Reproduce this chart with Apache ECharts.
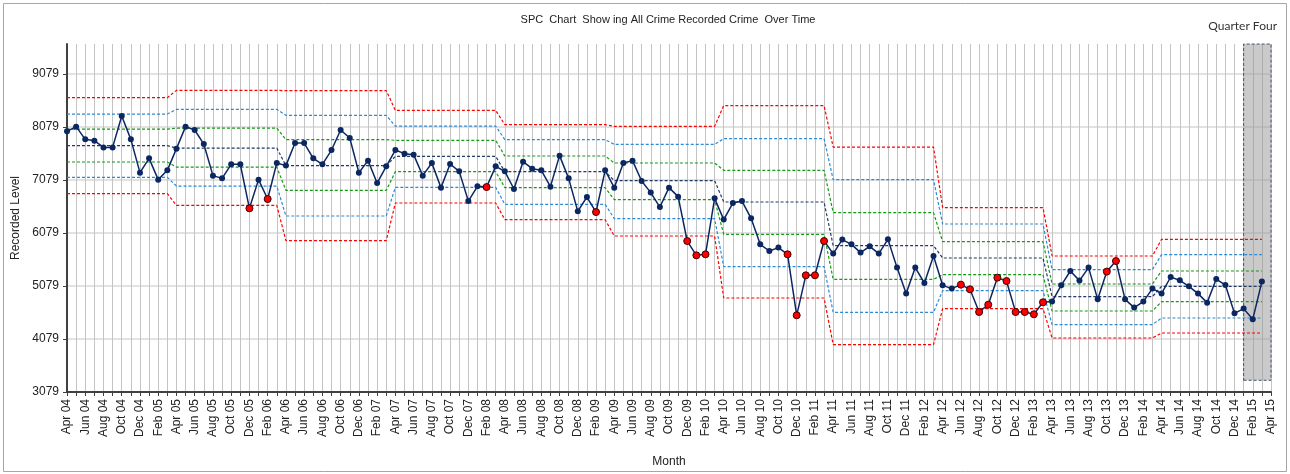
<!DOCTYPE html>
<html>
<head>
<meta charset="utf-8">
<script src="https://cdn.jsdelivr.net/npm/echarts@6/dist/echarts.min.js"></script>
<style>
  html, body { margin: 0; padding: 0; background: #fff; }
  #chart { width: 1290px; height: 474px; }
</style>
</head>
<body>
<div id="chart"></div>
<script>
// month labels Apr 04 .. Apr 15
var monthNames = ['Jan','Feb','Mar','Apr','May','Jun','Jul','Aug','Sep','Oct','Nov','Dec'];
var months = [];
for (var k = 0; k < 133; k++) {
  var m = (3 + k) % 12;
  var yr = 4 + Math.floor((3 + k) / 12);
  months.push(monthNames[m] + ' ' + (yr < 10 ? '0' + yr : '' + yr));
}

// recorded crime per month (Apr 04 .. Mar 15)
var recorded = [
  7993, 8082, 7842, 7818, 7691, 7691, 8282, 7842, 7214, 7484, 7083, 7258,
  7667, 8082, 8018, 7754, 7158, 7107, 7371, 7371, 6542, 7083, 6717, 7396,
  7347, 7773, 7773, 7484, 7371, 7641, 8018, 7867, 7214, 7441, 7019, 7333,
  7641, 7573, 7554, 7158, 7396, 6932, 7377, 7239, 6679, 6956, 6943, 7333,
  7239, 6906, 7422, 7290, 7258, 6951, 7535, 7107, 6485, 6755, 6472, 7258,
  6932, 7396, 7441, 7056, 6838, 6566, 6932, 6762, 5925, 5656, 5675, 6730,
  6329, 6642, 6679, 6353, 5863, 5737, 5801, 5675, 4525, 5279, 5279, 5925,
  5688, 5952, 5863, 5707, 5826, 5688, 5957, 5424, 4934, 5424, 5134, 5643,
  5090, 5028, 5103, 5015, 4587, 4726, 5235, 5171, 4587, 4587, 4544, 4770,
  4783, 5090, 5360, 5179, 5424, 4826, 5349, 5548, 4826, 4670, 4783, 5028,
  4934, 5247, 5184, 5071, 4934, 4764, 5209, 5096, 4562, 4651, 4449, 5160
];

// months flagged as special cause (red points)
var flagged = [20, 22, 46, 58, 68, 69, 70, 79, 80, 81, 82, 83,
  98, 99, 100, 101, 102, 103, 104, 105, 106, 107, 114, 115];

// control lines, one value per 12-month phase
var ucl    = [8628, 8766, 8760, 8389, 8119, 8087, 8478, 7697, 6555, 5643, 5957];
var plus2  = [8319, 8408, 8295, 8093, 7837, 7748, 7855, 7083, 6246, 5386, 5669];
var plus1  = [8036, 8055, 7837, 7824, 7528, 7396, 7258, 6461, 5914, 5115, 5360];
var centre = [7724, 7678, 7346, 7522, 7234, 7064, 6661, 5839, 5605, 4877, 5071];
var minus1 = [7415, 7320, 6881, 7234, 6932, 6706, 6052, 5203, 5292, 4606, 4783];
var minus2 = [7126, 6962, 6397, 6938, 6617, 6348, 5443, 4581, 4990, 4349, 4474];
var lcl    = [6819, 6598, 5933, 6642, 6329, 6020, 4851, 3972, 4651, 4097, 4191];

var yTicks = [3079, 4079, 5079, 6079, 7079, 8079, 9079];

function perMonth(levels) {
  var out = [];
  for (var i = 0; i < recorded.length; i++) out.push(levels[Math.floor(i / 12)]);
  return out;
}

function limitLine(levels, color, z) {
  return {
    type: 'line',
    data: perMonth(levels),
    symbol: 'none',
    silent: true,
    z: z,
    lineStyle: { color: color, width: 1.2, type: [3, 2] }
  };
}

var pointData = recorded.map(function (v, i) {
  if (flagged.indexOf(i) >= 0) {
    return { value: v, symbolSize: 7, itemStyle: { color: '#ff0000', borderColor: '#3a0000', borderWidth: 1 } };
  }
  return v;
});

var chart = echarts.init(document.getElementById('chart'));
chart.setOption({
  animation: false,
  textStyle: { fontFamily: 'Liberation Sans' },
  grid: { left: 67, right: 19, top: 44, bottom: 82, containLabel: false },
  graphic: [
    { type: 'rect', shape: { x: 3.5, y: 3.5, width: 1283, height: 468 },
      style: { fill: 'none', stroke: '#a6a6a6', lineWidth: 1 }, z: -10 },
    { type: 'text', x: 668, y: 14,
      style: { text: 'SPC  Chart  Show ing All Crime Recorded Crime  Over Time', fontSize: 11,
               fontFamily: 'Liberation Sans', fill: '#222', textAlign: 'center' } },
    { type: 'text', x: 1277, y: 20,
      style: { text: 'Quarter Four', fontSize: 12, fontFamily: 'Lato', fill: '#333', textAlign: 'right' } }
  ],
  xAxis: {
    type: 'category',
    data: months,
    boundaryGap: false,
    name: 'Month',
    nameLocation: 'middle',
    nameGap: 64,
    nameTextStyle: { fontSize: 12, color: '#222' },
    axisLine: { lineStyle: { color: '#404040', width: 2 } },
    axisTick: { interval: 0, length: 4, lineStyle: { color: '#404040' } },
    axisLabel: { interval: 1, rotate: 90, fontSize: 12, color: '#222', margin: 7 },
    splitLine: { show: true, interval: 0, lineStyle: { color: '#c4c4c4', width: 1 } }
  },
  yAxis: {
    type: 'value',
    min: 3079,
    max: 9640,
    interval: 1000,
    name: 'Recorded Level',
    nameLocation: 'middle',
    nameGap: 42,
    nameTextStyle: { fontSize: 12, color: '#222' },
    axisLine: { show: true, lineStyle: { color: '#404040', width: 2 } },
    axisTick: { show: true, length: 4, lineStyle: { color: '#404040' }, customValues: yTicks },
    axisLabel: { fontSize: 12, color: '#222', margin: 8, customValues: yTicks,
      formatter: function (v) { return String(v); } },
    splitLine: { lineStyle: { color: '#d9d9d9', width: 1.5 } }
  },
  series: [
    limitLine(ucl, '#ff0000', 2),
    limitLine(plus2, '#2a8ad6', 2),
    limitLine(plus1, '#159a15', 2),
    limitLine(centre, '#1f3a66', 2),
    limitLine(minus1, '#159a15', 2),
    limitLine(minus2, '#2a8ad6', 2),
    limitLine(lcl, '#ff0000', 2),
    {
      type: 'line',
      data: pointData,
      z: 5,
      symbol: 'circle',
      symbolSize: 6,
      showAllSymbol: true,
      itemStyle: { color: '#0b2762' },
      lineStyle: { color: '#0b2762', width: 1.5 },
      markArea: {
        silent: true,
        itemStyle: { color: 'rgba(150,150,150,0.5)', borderColor: '#44546a', borderWidth: 1, borderType: [3, 2] },
        data: [[{ xAxis: 'Jan 15', yAxis: 3300 }, { xAxis: 'Apr 15', yAxis: 9640 }]]
      }
    }
  ]
});
</script>
</body>
</html>
